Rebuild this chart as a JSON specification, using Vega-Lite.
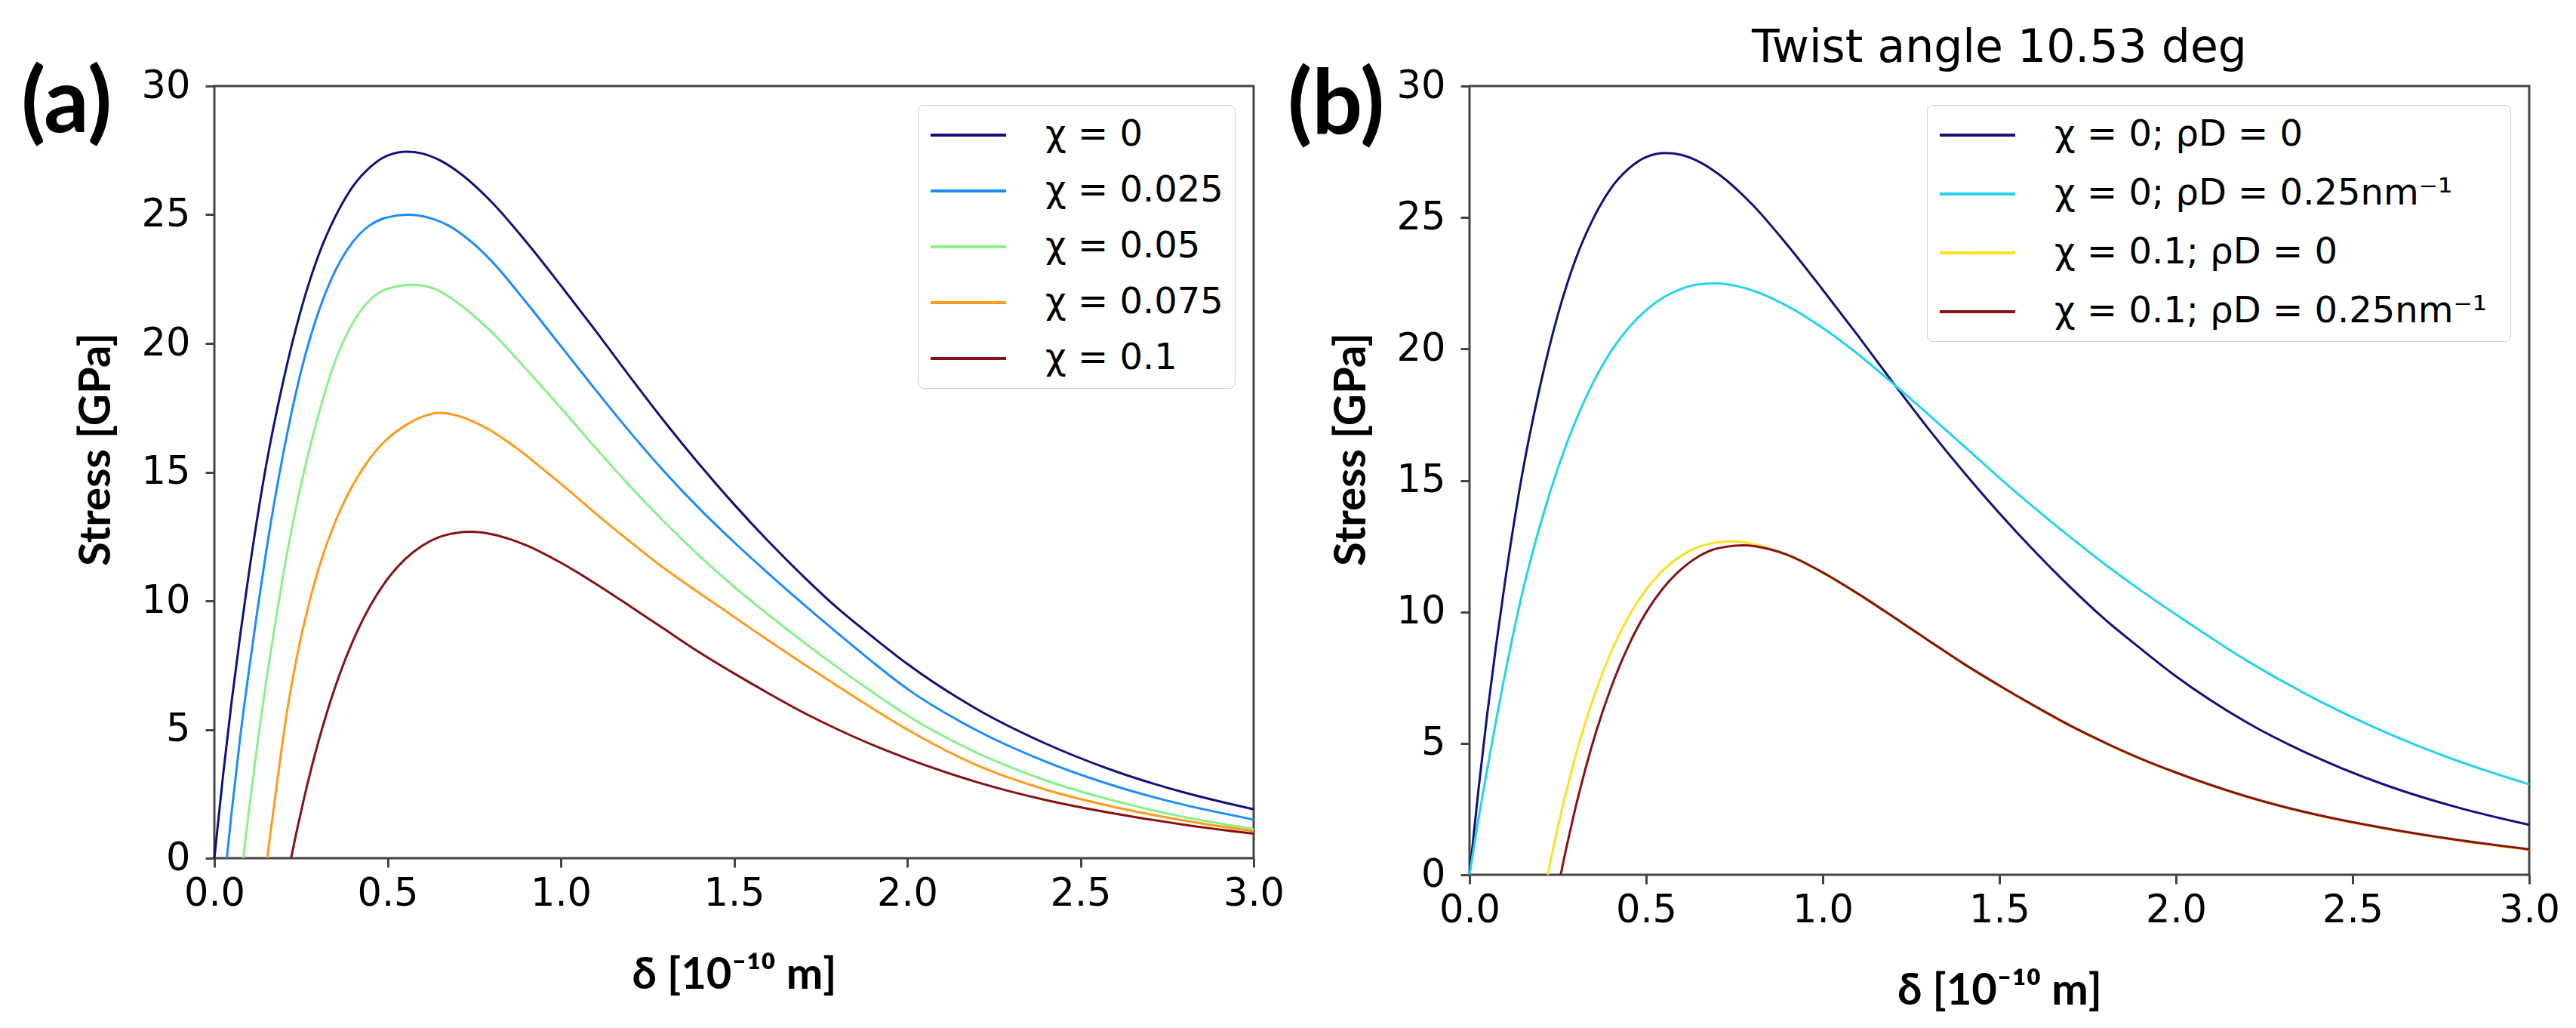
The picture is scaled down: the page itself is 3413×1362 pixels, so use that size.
{
  "$schema": "https://vega.github.io/schema/vega-lite/v6.json",
  "background": "white",
  "padding": {"left": 26, "top": 32, "right": 5, "bottom": 5},
  "spacing": 0,
  "config": {
    "view": {"stroke": "#444444", "strokeWidth": 3},
    "axis": {
      "grid": false, "domain": false, "labelFlush": false,
      "labelFont": "DejaVu Sans", "labelFontSize": 51, "labelColor": "#000000",
      "tickColor": "#444444", "tickWidth": 3, "tickSize": 12,
      "titleFont": "Lato", "titleFontSize": 58, "titleFontWeight": "bold", "titleColor": "#000000"
    },
    "legend": {
      "title": null, "orient": "top-right", "offset": 25,
      "symbolType": "M-2.2,0H2.2", "symbolSize": 2070, "symbolStrokeWidth": 4, "symbolOffset": 27,
      "labelFont": "DejaVu Sans", "labelFontSize": 48, "labelColor": "#000000", "labelOffset": 77, "labelLimit": 0,
      "padding": 15, "strokeColor": "#cccccc", "fillColor": "rgba(255,255,255,0.85)", "cornerRadius": 8
    },
    "title": {"font": "DejaVu Sans", "fontSize": 60, "fontWeight": "normal", "color": "#000000", "baseline": "alphabetic"}
  },
  "datasets": {
    "a": [
      {"k": "χ = 0", "d": 0, "s": 0}, {"k": "χ = 0", "d": 0.025, "s": 3.2}, {"k": "χ = 0", "d": 0.05, "s": 6.1}, {"k": "χ = 0", "d": 0.075, "s": 8.7}, {"k": "χ = 0", "d": 0.1, "s": 11.1}, {"k": "χ = 0", "d": 0.15, "s": 15.3}, {"k": "χ = 0", "d": 0.2, "s": 18.6}, {"k": "χ = 0", "d": 0.25, "s": 21.3}, {"k": "χ = 0", "d": 0.3, "s": 23.4}, {"k": "χ = 0", "d": 0.35, "s": 24.95}, {"k": "χ = 0", "d": 0.4, "s": 26.1}, {"k": "χ = 0", "d": 0.45, "s": 26.85}, {"k": "χ = 0", "d": 0.5, "s": 27.3}, {"k": "χ = 0", "d": 0.555, "s": 27.45}, {"k": "χ = 0", "d": 0.6, "s": 27.38}, {"k": "χ = 0", "d": 0.65, "s": 27.12}, {"k": "χ = 0", "d": 0.7, "s": 26.7}, {"k": "χ = 0", "d": 0.8, "s": 25.5}, {"k": "χ = 0", "d": 0.9, "s": 23.95}, {"k": "χ = 0", "d": 1.0, "s": 22.25}, {"k": "χ = 0", "d": 1.1, "s": 20.5}, {"k": "χ = 0", "d": 1.2, "s": 18.7}, {"k": "χ = 0", "d": 1.3, "s": 16.95}, {"k": "χ = 0", "d": 1.4, "s": 15.3}, {"k": "χ = 0", "d": 1.5, "s": 13.75}, {"k": "χ = 0", "d": 1.6, "s": 12.3}, {"k": "χ = 0", "d": 1.7, "s": 10.95}, {"k": "χ = 0", "d": 1.8, "s": 9.7}, {"k": "χ = 0", "d": 1.9, "s": 8.6}, {"k": "χ = 0", "d": 2.0, "s": 7.55}, {"k": "χ = 0", "d": 2.2, "s": 5.8}, {"k": "χ = 0", "d": 2.4, "s": 4.45}, {"k": "χ = 0", "d": 2.6, "s": 3.38}, {"k": "χ = 0", "d": 2.8, "s": 2.55}, {"k": "χ = 0", "d": 3.0, "s": 1.9},
      {"k": "χ = 0.025", "d": 0.036, "s": 0}, {"k": "χ = 0.025", "d": 0.05, "s": 1.8}, {"k": "χ = 0.025", "d": 0.075, "s": 4.75}, {"k": "χ = 0.025", "d": 0.1, "s": 7.3}, {"k": "χ = 0.025", "d": 0.125, "s": 9.7}, {"k": "χ = 0.025", "d": 0.15, "s": 11.95}, {"k": "χ = 0.025", "d": 0.2, "s": 15.8}, {"k": "χ = 0.025", "d": 0.25, "s": 18.9}, {"k": "χ = 0.025", "d": 0.3, "s": 21.2}, {"k": "χ = 0.025", "d": 0.35, "s": 22.85}, {"k": "χ = 0.025", "d": 0.4, "s": 23.95}, {"k": "χ = 0.025", "d": 0.45, "s": 24.6}, {"k": "χ = 0.025", "d": 0.5, "s": 24.9}, {"k": "χ = 0.025", "d": 0.56, "s": 25.0}, {"k": "χ = 0.025", "d": 0.62, "s": 24.88}, {"k": "χ = 0.025", "d": 0.68, "s": 24.55}, {"k": "χ = 0.025", "d": 0.75, "s": 23.85}, {"k": "χ = 0.025", "d": 0.8, "s": 23.2}, {"k": "χ = 0.025", "d": 0.9, "s": 21.6}, {"k": "χ = 0.025", "d": 1.0, "s": 19.9}, {"k": "χ = 0.025", "d": 1.1, "s": 18.2}, {"k": "χ = 0.025", "d": 1.2, "s": 16.55}, {"k": "χ = 0.025", "d": 1.3, "s": 15.0}, {"k": "χ = 0.025", "d": 1.4, "s": 13.58}, {"k": "χ = 0.025", "d": 1.5, "s": 12.28}, {"k": "χ = 0.025", "d": 1.6, "s": 11.05}, {"k": "χ = 0.025", "d": 1.7, "s": 9.87}, {"k": "χ = 0.025", "d": 1.8, "s": 8.73}, {"k": "χ = 0.025", "d": 1.9, "s": 7.62}, {"k": "χ = 0.025", "d": 2.0, "s": 6.58}, {"k": "χ = 0.025", "d": 2.2, "s": 4.97}, {"k": "χ = 0.025", "d": 2.4, "s": 3.75}, {"k": "χ = 0.025", "d": 2.6, "s": 2.8}, {"k": "χ = 0.025", "d": 2.8, "s": 2.07}, {"k": "χ = 0.025", "d": 3.0, "s": 1.5},
      {"k": "χ = 0.05", "d": 0.0835, "s": 0}, {"k": "χ = 0.05", "d": 0.1, "s": 1.85}, {"k": "χ = 0.05", "d": 0.125, "s": 4.5}, {"k": "χ = 0.05", "d": 0.15, "s": 6.9}, {"k": "χ = 0.05", "d": 0.175, "s": 9.05}, {"k": "χ = 0.05", "d": 0.2, "s": 11.1}, {"k": "χ = 0.05", "d": 0.25, "s": 14.5}, {"k": "χ = 0.05", "d": 0.3, "s": 17.2}, {"k": "χ = 0.05", "d": 0.35, "s": 19.35}, {"k": "χ = 0.05", "d": 0.4, "s": 20.8}, {"k": "χ = 0.05", "d": 0.45, "s": 21.7}, {"k": "χ = 0.05", "d": 0.5, "s": 22.12}, {"k": "χ = 0.05", "d": 0.574, "s": 22.28}, {"k": "χ = 0.05", "d": 0.64, "s": 22.1}, {"k": "χ = 0.05", "d": 0.7, "s": 21.6}, {"k": "χ = 0.05", "d": 0.8, "s": 20.45}, {"k": "χ = 0.05", "d": 0.9, "s": 19.0}, {"k": "χ = 0.05", "d": 1.0, "s": 17.5}, {"k": "χ = 0.05", "d": 1.1, "s": 15.95}, {"k": "χ = 0.05", "d": 1.2, "s": 14.45}, {"k": "χ = 0.05", "d": 1.3, "s": 13.05}, {"k": "χ = 0.05", "d": 1.4, "s": 11.75}, {"k": "χ = 0.05", "d": 1.5, "s": 10.55}, {"k": "χ = 0.05", "d": 1.6, "s": 9.45}, {"k": "χ = 0.05", "d": 1.7, "s": 8.4}, {"k": "χ = 0.05", "d": 1.8, "s": 7.4}, {"k": "χ = 0.05", "d": 1.9, "s": 6.45}, {"k": "χ = 0.05", "d": 2.0, "s": 5.55}, {"k": "χ = 0.05", "d": 2.2, "s": 4.1}, {"k": "χ = 0.05", "d": 2.4, "s": 3.02}, {"k": "χ = 0.05", "d": 2.6, "s": 2.22}, {"k": "χ = 0.05", "d": 2.8, "s": 1.6}, {"k": "χ = 0.05", "d": 3.0, "s": 1.13},
      {"k": "χ = 0.075", "d": 0.1525, "s": 0}, {"k": "χ = 0.075", "d": 0.17, "s": 1.8}, {"k": "χ = 0.075", "d": 0.19, "s": 3.85}, {"k": "χ = 0.075", "d": 0.21, "s": 5.7}, {"k": "χ = 0.075", "d": 0.235, "s": 7.6}, {"k": "χ = 0.075", "d": 0.265, "s": 9.45}, {"k": "χ = 0.075", "d": 0.3, "s": 11.2}, {"k": "χ = 0.075", "d": 0.35, "s": 13.1}, {"k": "χ = 0.075", "d": 0.4, "s": 14.5}, {"k": "χ = 0.075", "d": 0.45, "s": 15.55}, {"k": "χ = 0.075", "d": 0.5, "s": 16.3}, {"k": "χ = 0.075", "d": 0.55, "s": 16.8}, {"k": "χ = 0.075", "d": 0.6, "s": 17.15}, {"k": "χ = 0.075", "d": 0.65, "s": 17.3}, {"k": "χ = 0.075", "d": 0.7, "s": 17.2}, {"k": "χ = 0.075", "d": 0.75, "s": 16.95}, {"k": "χ = 0.075", "d": 0.8, "s": 16.6}, {"k": "χ = 0.075", "d": 0.85, "s": 16.15}, {"k": "χ = 0.075", "d": 0.9, "s": 15.65}, {"k": "χ = 0.075", "d": 0.95, "s": 15.1}, {"k": "χ = 0.075", "d": 1.0, "s": 14.55}, {"k": "χ = 0.075", "d": 1.05, "s": 13.98}, {"k": "χ = 0.075", "d": 1.1, "s": 13.4}, {"k": "χ = 0.075", "d": 1.2, "s": 12.3}, {"k": "χ = 0.075", "d": 1.3, "s": 11.25}, {"k": "χ = 0.075", "d": 1.4, "s": 10.3}, {"k": "χ = 0.075", "d": 1.5, "s": 9.38}, {"k": "χ = 0.075", "d": 1.6, "s": 8.45}, {"k": "χ = 0.075", "d": 1.7, "s": 7.55}, {"k": "χ = 0.075", "d": 1.8, "s": 6.68}, {"k": "χ = 0.075", "d": 1.9, "s": 5.82}, {"k": "χ = 0.075", "d": 2.0, "s": 5.0}, {"k": "χ = 0.075", "d": 2.2, "s": 3.62}, {"k": "χ = 0.075", "d": 2.4, "s": 2.66}, {"k": "χ = 0.075", "d": 2.6, "s": 1.98}, {"k": "χ = 0.075", "d": 2.8, "s": 1.46}, {"k": "χ = 0.075", "d": 3.0, "s": 1.05},
      {"k": "χ = 0.1", "d": 0.2215, "s": 0}, {"k": "χ = 0.1", "d": 0.23, "s": 0.56}, {"k": "χ = 0.1", "d": 0.24, "s": 1.19}, {"k": "χ = 0.1", "d": 0.26, "s": 2.39}, {"k": "χ = 0.1", "d": 0.28, "s": 3.49}, {"k": "χ = 0.1", "d": 0.3, "s": 4.51}, {"k": "χ = 0.1", "d": 0.33, "s": 5.88}, {"k": "χ = 0.1", "d": 0.36, "s": 7.08}, {"k": "χ = 0.1", "d": 0.4, "s": 8.44}, {"k": "χ = 0.1", "d": 0.45, "s": 9.81}, {"k": "χ = 0.1", "d": 0.5, "s": 10.85}, {"k": "χ = 0.1", "d": 0.55, "s": 11.61}, {"k": "χ = 0.1", "d": 0.6, "s": 12.14}, {"k": "χ = 0.1", "d": 0.65, "s": 12.48}, {"k": "χ = 0.1", "d": 0.7, "s": 12.64}, {"k": "χ = 0.1", "d": 0.74, "s": 12.68}, {"k": "χ = 0.1", "d": 0.8, "s": 12.59}, {"k": "χ = 0.1", "d": 0.85, "s": 12.41}, {"k": "χ = 0.1", "d": 0.9, "s": 12.16}, {"k": "χ = 0.1", "d": 1.0, "s": 11.48}, {"k": "χ = 0.1", "d": 1.1, "s": 10.67}, {"k": "χ = 0.1", "d": 1.2, "s": 9.79}, {"k": "χ = 0.1", "d": 1.3, "s": 8.89}, {"k": "χ = 0.1", "d": 1.4, "s": 8.0}, {"k": "χ = 0.1", "d": 1.5, "s": 7.18}, {"k": "χ = 0.1", "d": 1.6, "s": 6.4}, {"k": "χ = 0.1", "d": 1.7, "s": 5.66}, {"k": "χ = 0.1", "d": 1.8, "s": 5.0}, {"k": "χ = 0.1", "d": 1.9, "s": 4.4}, {"k": "χ = 0.1", "d": 2.0, "s": 3.87}, {"k": "χ = 0.1", "d": 2.2, "s": 2.96}, {"k": "χ = 0.1", "d": 2.4, "s": 2.26}, {"k": "χ = 0.1", "d": 2.6, "s": 1.73}, {"k": "χ = 0.1", "d": 2.8, "s": 1.3}, {"k": "χ = 0.1", "d": 3.0, "s": 0.95}
    ],
    "b": [
      {"k": "χ = 0;  ρD = 0", "d": 0, "s": 0}, {"k": "χ = 0;  ρD = 0", "d": 0.025, "s": 3.2}, {"k": "χ = 0;  ρD = 0", "d": 0.05, "s": 6.1}, {"k": "χ = 0;  ρD = 0", "d": 0.075, "s": 8.7}, {"k": "χ = 0;  ρD = 0", "d": 0.1, "s": 11.1}, {"k": "χ = 0;  ρD = 0", "d": 0.15, "s": 15.3}, {"k": "χ = 0;  ρD = 0", "d": 0.2, "s": 18.6}, {"k": "χ = 0;  ρD = 0", "d": 0.25, "s": 21.3}, {"k": "χ = 0;  ρD = 0", "d": 0.3, "s": 23.4}, {"k": "χ = 0;  ρD = 0", "d": 0.35, "s": 24.95}, {"k": "χ = 0;  ρD = 0", "d": 0.4, "s": 26.1}, {"k": "χ = 0;  ρD = 0", "d": 0.45, "s": 26.85}, {"k": "χ = 0;  ρD = 0", "d": 0.5, "s": 27.3}, {"k": "χ = 0;  ρD = 0", "d": 0.555, "s": 27.45}, {"k": "χ = 0;  ρD = 0", "d": 0.6, "s": 27.38}, {"k": "χ = 0;  ρD = 0", "d": 0.65, "s": 27.12}, {"k": "χ = 0;  ρD = 0", "d": 0.7, "s": 26.7}, {"k": "χ = 0;  ρD = 0", "d": 0.8, "s": 25.5}, {"k": "χ = 0;  ρD = 0", "d": 0.9, "s": 23.95}, {"k": "χ = 0;  ρD = 0", "d": 1.0, "s": 22.25}, {"k": "χ = 0;  ρD = 0", "d": 1.1, "s": 20.5}, {"k": "χ = 0;  ρD = 0", "d": 1.2, "s": 18.7}, {"k": "χ = 0;  ρD = 0", "d": 1.3, "s": 16.95}, {"k": "χ = 0;  ρD = 0", "d": 1.4, "s": 15.3}, {"k": "χ = 0;  ρD = 0", "d": 1.5, "s": 13.75}, {"k": "χ = 0;  ρD = 0", "d": 1.6, "s": 12.3}, {"k": "χ = 0;  ρD = 0", "d": 1.7, "s": 10.95}, {"k": "χ = 0;  ρD = 0", "d": 1.8, "s": 9.7}, {"k": "χ = 0;  ρD = 0", "d": 1.9, "s": 8.6}, {"k": "χ = 0;  ρD = 0", "d": 2.0, "s": 7.55}, {"k": "χ = 0;  ρD = 0", "d": 2.2, "s": 5.8}, {"k": "χ = 0;  ρD = 0", "d": 2.4, "s": 4.45}, {"k": "χ = 0;  ρD = 0", "d": 2.6, "s": 3.38}, {"k": "χ = 0;  ρD = 0", "d": 2.8, "s": 2.55}, {"k": "χ = 0;  ρD = 0", "d": 3.0, "s": 1.9},
      {"k": "χ = 0;  ρD = 0.25nm⁻¹", "d": 0, "s": 0}, {"k": "χ = 0;  ρD = 0.25nm⁻¹", "d": 0.025, "s": 2.1}, {"k": "χ = 0;  ρD = 0.25nm⁻¹", "d": 0.05, "s": 4.0}, {"k": "χ = 0;  ρD = 0.25nm⁻¹", "d": 0.1, "s": 7.6}, {"k": "χ = 0;  ρD = 0.25nm⁻¹", "d": 0.15, "s": 10.75}, {"k": "χ = 0;  ρD = 0.25nm⁻¹", "d": 0.2, "s": 13.3}, {"k": "χ = 0;  ρD = 0.25nm⁻¹", "d": 0.25, "s": 15.45}, {"k": "χ = 0;  ρD = 0.25nm⁻¹", "d": 0.3, "s": 17.25}, {"k": "χ = 0;  ρD = 0.25nm⁻¹", "d": 0.35, "s": 18.72}, {"k": "χ = 0;  ρD = 0.25nm⁻¹", "d": 0.4, "s": 19.9}, {"k": "χ = 0;  ρD = 0.25nm⁻¹", "d": 0.45, "s": 20.8}, {"k": "χ = 0;  ρD = 0.25nm⁻¹", "d": 0.5, "s": 21.48}, {"k": "χ = 0;  ρD = 0.25nm⁻¹", "d": 0.55, "s": 21.97}, {"k": "χ = 0;  ρD = 0.25nm⁻¹", "d": 0.6, "s": 22.29}, {"k": "χ = 0;  ρD = 0.25nm⁻¹", "d": 0.65, "s": 22.46}, {"k": "χ = 0;  ρD = 0.25nm⁻¹", "d": 0.7, "s": 22.49}, {"k": "χ = 0;  ρD = 0.25nm⁻¹", "d": 0.75, "s": 22.41}, {"k": "χ = 0;  ρD = 0.25nm⁻¹", "d": 0.8, "s": 22.23}, {"k": "χ = 0;  ρD = 0.25nm⁻¹", "d": 0.9, "s": 21.63}, {"k": "χ = 0;  ρD = 0.25nm⁻¹", "d": 1.0, "s": 20.8}, {"k": "χ = 0;  ρD = 0.25nm⁻¹", "d": 1.1, "s": 19.8}, {"k": "χ = 0;  ρD = 0.25nm⁻¹", "d": 1.2, "s": 18.67}, {"k": "χ = 0;  ρD = 0.25nm⁻¹", "d": 1.3, "s": 17.5}, {"k": "χ = 0;  ρD = 0.25nm⁻¹", "d": 1.4, "s": 16.3}, {"k": "χ = 0;  ρD = 0.25nm⁻¹", "d": 1.5, "s": 15.1}, {"k": "χ = 0;  ρD = 0.25nm⁻¹", "d": 1.6, "s": 13.95}, {"k": "χ = 0;  ρD = 0.25nm⁻¹", "d": 1.7, "s": 12.85}, {"k": "χ = 0;  ρD = 0.25nm⁻¹", "d": 1.8, "s": 11.8}, {"k": "χ = 0;  ρD = 0.25nm⁻¹", "d": 1.9, "s": 10.82}, {"k": "χ = 0;  ρD = 0.25nm⁻¹", "d": 2.0, "s": 9.9}, {"k": "χ = 0;  ρD = 0.25nm⁻¹", "d": 2.2, "s": 8.15}, {"k": "χ = 0;  ρD = 0.25nm⁻¹", "d": 2.4, "s": 6.65}, {"k": "χ = 0;  ρD = 0.25nm⁻¹", "d": 2.6, "s": 5.38}, {"k": "χ = 0;  ρD = 0.25nm⁻¹", "d": 2.8, "s": 4.32}, {"k": "χ = 0;  ρD = 0.25nm⁻¹", "d": 3.0, "s": 3.44},
      {"k": "χ = 0.1;  ρD = 0", "d": 0.2215, "s": 0}, {"k": "χ = 0.1;  ρD = 0", "d": 0.23, "s": 0.56}, {"k": "χ = 0.1;  ρD = 0", "d": 0.24, "s": 1.19}, {"k": "χ = 0.1;  ρD = 0", "d": 0.26, "s": 2.39}, {"k": "χ = 0.1;  ρD = 0", "d": 0.28, "s": 3.49}, {"k": "χ = 0.1;  ρD = 0", "d": 0.3, "s": 4.51}, {"k": "χ = 0.1;  ρD = 0", "d": 0.33, "s": 5.88}, {"k": "χ = 0.1;  ρD = 0", "d": 0.36, "s": 7.08}, {"k": "χ = 0.1;  ρD = 0", "d": 0.4, "s": 8.44}, {"k": "χ = 0.1;  ρD = 0", "d": 0.45, "s": 9.81}, {"k": "χ = 0.1;  ρD = 0", "d": 0.5, "s": 10.85}, {"k": "χ = 0.1;  ρD = 0", "d": 0.55, "s": 11.61}, {"k": "χ = 0.1;  ρD = 0", "d": 0.6, "s": 12.14}, {"k": "χ = 0.1;  ρD = 0", "d": 0.65, "s": 12.48}, {"k": "χ = 0.1;  ρD = 0", "d": 0.7, "s": 12.64}, {"k": "χ = 0.1;  ρD = 0", "d": 0.74, "s": 12.68}, {"k": "χ = 0.1;  ρD = 0", "d": 0.8, "s": 12.59}, {"k": "χ = 0.1;  ρD = 0", "d": 0.85, "s": 12.41}, {"k": "χ = 0.1;  ρD = 0", "d": 0.9, "s": 12.16}, {"k": "χ = 0.1;  ρD = 0", "d": 1.0, "s": 11.48}, {"k": "χ = 0.1;  ρD = 0", "d": 1.1, "s": 10.67}, {"k": "χ = 0.1;  ρD = 0", "d": 1.2, "s": 9.79}, {"k": "χ = 0.1;  ρD = 0", "d": 1.3, "s": 8.89}, {"k": "χ = 0.1;  ρD = 0", "d": 1.4, "s": 8.0}, {"k": "χ = 0.1;  ρD = 0", "d": 1.5, "s": 7.18}, {"k": "χ = 0.1;  ρD = 0", "d": 1.6, "s": 6.4}, {"k": "χ = 0.1;  ρD = 0", "d": 1.7, "s": 5.66}, {"k": "χ = 0.1;  ρD = 0", "d": 1.8, "s": 5.0}, {"k": "χ = 0.1;  ρD = 0", "d": 1.9, "s": 4.4}, {"k": "χ = 0.1;  ρD = 0", "d": 2.0, "s": 3.87}, {"k": "χ = 0.1;  ρD = 0", "d": 2.2, "s": 2.96}, {"k": "χ = 0.1;  ρD = 0", "d": 2.4, "s": 2.26}, {"k": "χ = 0.1;  ρD = 0", "d": 2.6, "s": 1.73}, {"k": "χ = 0.1;  ρD = 0", "d": 2.8, "s": 1.3}, {"k": "χ = 0.1;  ρD = 0", "d": 3.0, "s": 0.95},
      {"k": "χ = 0.1;  ρD = 0.25nm⁻¹", "d": 0.258, "s": 0}, {"k": "χ = 0.1;  ρD = 0.25nm⁻¹", "d": 0.27, "s": 0.77}, {"k": "χ = 0.1;  ρD = 0.25nm⁻¹", "d": 0.285, "s": 1.68}, {"k": "χ = 0.1;  ρD = 0.25nm⁻¹", "d": 0.3, "s": 2.55}, {"k": "χ = 0.1;  ρD = 0.25nm⁻¹", "d": 0.33, "s": 4.12}, {"k": "χ = 0.1;  ρD = 0.25nm⁻¹", "d": 0.36, "s": 5.51}, {"k": "χ = 0.1;  ρD = 0.25nm⁻¹", "d": 0.4, "s": 7.09}, {"k": "χ = 0.1;  ρD = 0.25nm⁻¹", "d": 0.45, "s": 8.71}, {"k": "χ = 0.1;  ρD = 0.25nm⁻¹", "d": 0.5, "s": 9.98}, {"k": "χ = 0.1;  ρD = 0.25nm⁻¹", "d": 0.55, "s": 10.93}, {"k": "χ = 0.1;  ρD = 0.25nm⁻¹", "d": 0.6, "s": 11.63}, {"k": "χ = 0.1;  ρD = 0.25nm⁻¹", "d": 0.65, "s": 12.12}, {"k": "χ = 0.1;  ρD = 0.25nm⁻¹", "d": 0.7, "s": 12.41}, {"k": "χ = 0.1;  ρD = 0.25nm⁻¹", "d": 0.776, "s": 12.53}, {"k": "χ = 0.1;  ρD = 0.25nm⁻¹", "d": 0.85, "s": 12.38}, {"k": "χ = 0.1;  ρD = 0.25nm⁻¹", "d": 0.9, "s": 12.17}, {"k": "χ = 0.1;  ρD = 0.25nm⁻¹", "d": 1.0, "s": 11.5}, {"k": "χ = 0.1;  ρD = 0.25nm⁻¹", "d": 1.1, "s": 10.69}, {"k": "χ = 0.1;  ρD = 0.25nm⁻¹", "d": 1.2, "s": 9.81}, {"k": "χ = 0.1;  ρD = 0.25nm⁻¹", "d": 1.3, "s": 8.91}, {"k": "χ = 0.1;  ρD = 0.25nm⁻¹", "d": 1.4, "s": 8.02}, {"k": "χ = 0.1;  ρD = 0.25nm⁻¹", "d": 1.5, "s": 7.2}, {"k": "χ = 0.1;  ρD = 0.25nm⁻¹", "d": 1.6, "s": 6.42}, {"k": "χ = 0.1;  ρD = 0.25nm⁻¹", "d": 1.7, "s": 5.68}, {"k": "χ = 0.1;  ρD = 0.25nm⁻¹", "d": 1.8, "s": 5.02}, {"k": "χ = 0.1;  ρD = 0.25nm⁻¹", "d": 1.9, "s": 4.42}, {"k": "χ = 0.1;  ρD = 0.25nm⁻¹", "d": 2.0, "s": 3.89}, {"k": "χ = 0.1;  ρD = 0.25nm⁻¹", "d": 2.2, "s": 2.98}, {"k": "χ = 0.1;  ρD = 0.25nm⁻¹", "d": 2.4, "s": 2.28}, {"k": "χ = 0.1;  ρD = 0.25nm⁻¹", "d": 2.6, "s": 1.75}, {"k": "χ = 0.1;  ρD = 0.25nm⁻¹", "d": 2.8, "s": 1.32}, {"k": "χ = 0.1;  ρD = 0.25nm⁻¹", "d": 3.0, "s": 0.97}
    ]
  },
  "hconcat": [
    {
      "width": 1377, "height": 1023,
      "layer": [
        {
          "data": {"name": "a"},
          "mark": {"type": "line", "strokeWidth": 3, "interpolate": "monotone"},
          "encoding": {
            "x": {"field": "d", "type": "quantitative", "scale": {"domain": [0, 3], "nice": false},
                  "axis": {"values": [0, 0.5, 1, 1.5, 2, 2.5, 3], "format": ".1f", "title": "δ [10⁻¹⁰ m]", "labelPadding": 10, "titlePadding": 54}},
            "y": {"field": "s", "type": "quantitative", "scale": {"domain": [0, 30], "nice": false},
                  "axis": {"values": [0, 5, 10, 15, 20, 25, 30], "title": "Stress [GPa]", "labelPadding": 20, "titlePadding": 30, "titleY": 481}},
            "color": {"field": "k", "type": "nominal",
                      "scale": {"domain": ["χ = 0", "χ = 0.025", "χ = 0.05", "χ = 0.075", "χ = 0.1"],
                                "range": ["#10107f", "#1a8cff", "#88f088", "#ff9a1a", "#881111"]},
                      "legend": {"rowPadding": 25}}
          }
        },
        {
          "data": {"values": [{}]},
          "mark": {"type": "text", "text": "(a)", "font": "Lato", "fontSize": 118, "fontWeight": "bold", "align": "left", "baseline": "middle", "color": "#000000"},
          "encoding": {"x": {"datum": -0.558, "type": "quantitative"}, "y": {"datum": 29.24, "type": "quantitative"}}
        }
      ]
    },
    {
      "width": 1404, "height": 1045,
      "title": {"text": "Twist angle 10.53 deg", "offset": -12},
      "layer": [
        {
          "data": {"name": "b"},
          "mark": {"type": "line", "strokeWidth": 3, "interpolate": "monotone"},
          "encoding": {
            "x": {"field": "d", "type": "quantitative", "scale": {"domain": [0, 3], "nice": false},
                  "axis": {"values": [0, 0.5, 1, 1.5, 2, 2.5, 3], "format": ".1f", "title": "δ [10⁻¹⁰ m]", "labelPadding": 10, "titlePadding": 53}},
            "y": {"field": "s", "type": "quantitative", "scale": {"domain": [0, 30], "nice": false},
                  "axis": {"values": [0, 5, 10, 15, 20, 25, 30], "title": "Stress [GPa]", "labelPadding": 20, "titlePadding": 30, "titleY": 481}},
            "color": {"field": "k", "type": "nominal",
                      "scale": {"domain": ["χ = 0;  ρD = 0", "χ = 0;  ρD = 0.25nm⁻¹", "χ = 0.1;  ρD = 0", "χ = 0.1;  ρD = 0.25nm⁻¹"],
                                "range": ["#10107f", "#22d3ee", "#ffdf22", "#861212"]},
                      "legend": {"rowPadding": 29}}
          }
        },
        {
          "data": {"values": [{}]},
          "mark": {"type": "text", "text": "(b)", "font": "Lato", "fontSize": 118, "fontWeight": "bold", "align": "left", "baseline": "middle", "color": "#000000"},
          "encoding": {"x": {"datum": -0.515, "type": "quantitative"}, "y": {"datum": 29.2, "type": "quantitative"}}
        }
      ]
    }
  ],
  "resolve": {"scale": {"color": "independent"}, "legend": {"color": "independent"}}
}
